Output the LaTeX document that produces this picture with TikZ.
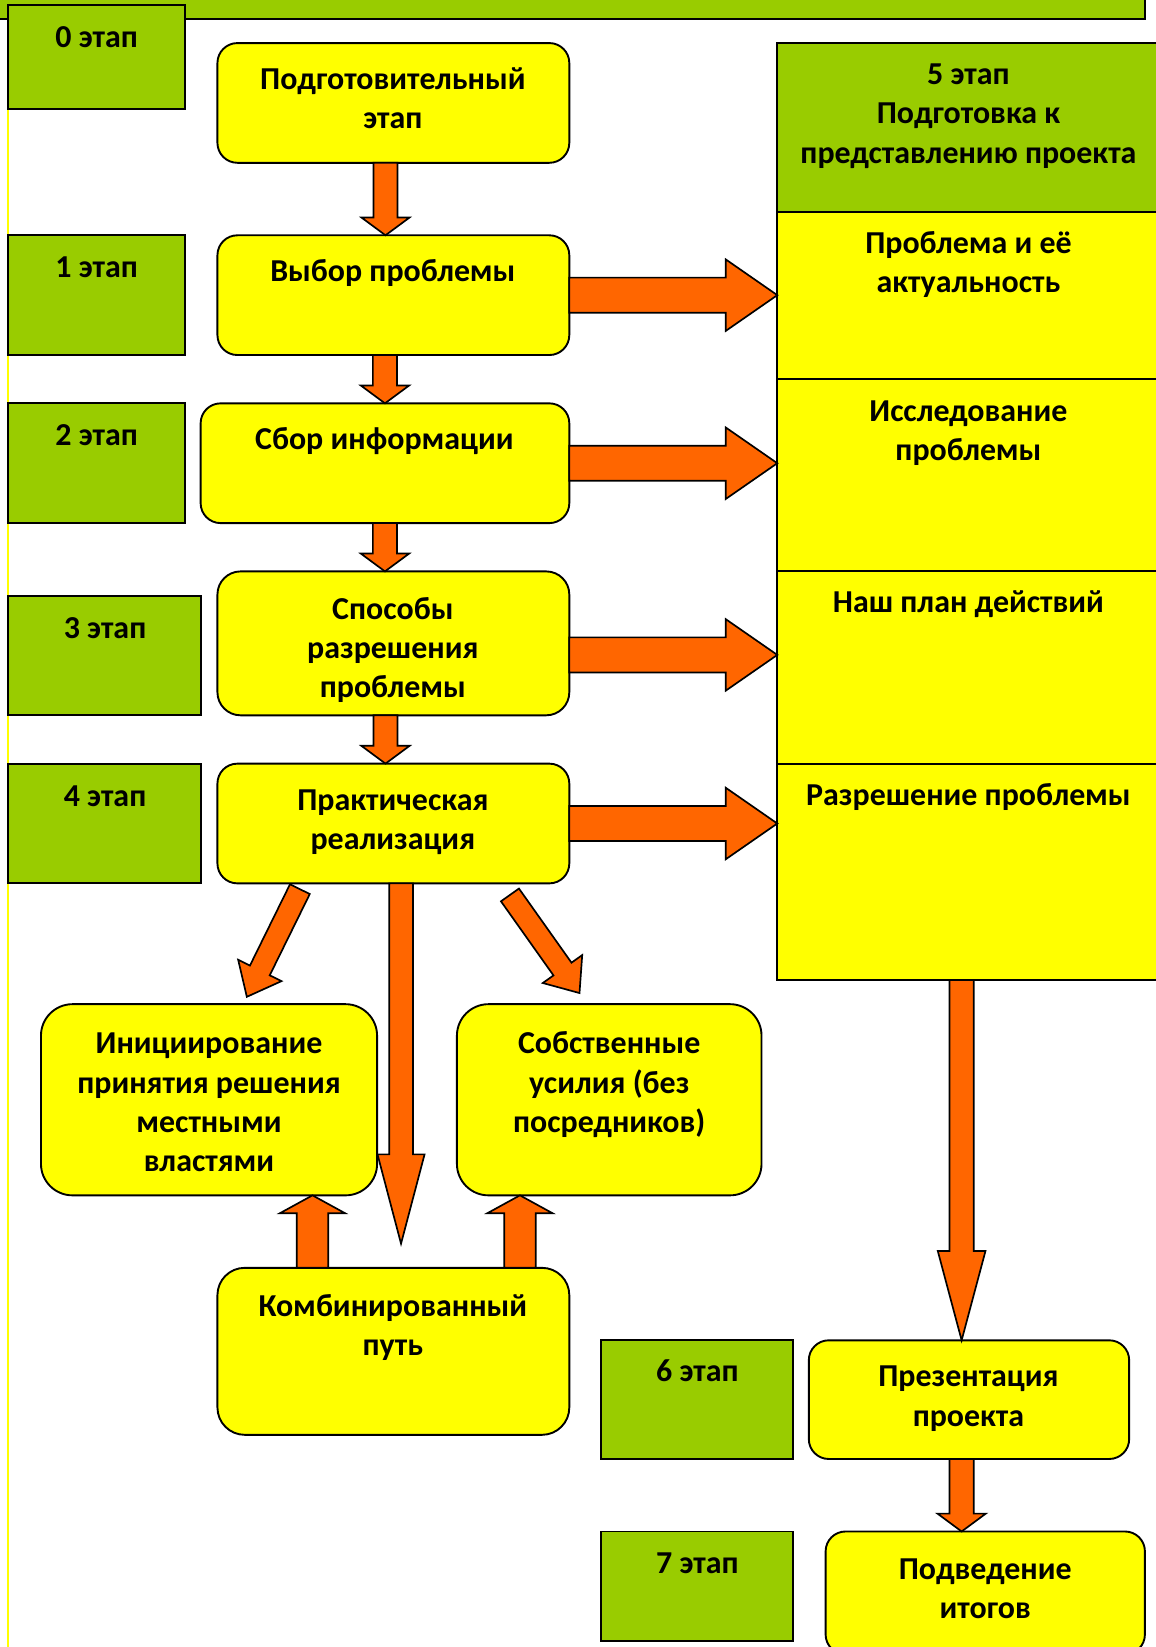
\documentclass[tikz,border=0pt]{standalone}
\usepackage{fontspec}
\setmainfont{Carlito}
\usetikzlibrary{calc}
\definecolor{gr}{HTML}{99CC00}
\definecolor{ye}{HTML}{FFFF00}
\definecolor{orng}{HTML}{FF6600}
\tikzset{
 basebox/.style={draw=black, line width=0.9pt, inner sep=0pt, outer sep=0pt, anchor=north west},
 gbox/.style={basebox, fill=gr},
 ybox/.style={basebox, fill=ye},
 rbox/.style={basebox, fill=ye, rounded corners=#1},
 txt/.style={font=\fontsize{15.2}{18.7}\selectfont\bfseries, align=center, inner sep=0pt, anchor=north},
 blk/.style={draw=black, line width=0.8pt, fill=orng, line join=miter},
}
\newcommand\bx[6][gbox]{\node[#1, minimum width={(#5-#3)*0.5pt}, minimum height={(#6-#4)*0.5pt}] (#2) at (#3,#4) {};}
\newcommand\tx[4]{\node[txt] (#1) at ({#2},{#3-17}) {\rule{0pt}{13pt}#4};}
\newcommand\barrow[5]{%
 \coordinate (hh) at ($(#2)!#5!(#1)$);
 \draw[blk] ($(#1)!#3!90:(#2)$) -- ($(hh)!#3!90:(#2)$) -- ($(hh)!#4!90:(#2)$) -- (#2) -- ($(hh)!#4!-90:(#2)$) -- ($(hh)!#3!-90:(#2)$) -- ($(#1)!#3!-90:(#2)$) -- cycle;}
\begin{document}
\begin{tikzpicture}[x=0.5pt, y=-0.5pt]
\useasboundingbox (0,0) rectangle (1100,1568);
\fill[white] (0,0) rectangle (1100,1568);
% left yellow border line
\draw[ye, line width=1.2pt] (7.5,-10) -- (7.5,1580);
% top bar
\bx{bar}{-10}{-30}{1090}{18}
% stage boxes
\bx{g0}{8}{5}{176}{104}
\bx{g1}{8}{224}{176}{338}
\bx{g2}{8}{384}{176}{498}
\bx{g3}{8}{567}{191}{681}
\bx{g4}{8}{727}{191}{841}
\bx{g6}{572}{1276}{755}{1389}
\bx{g7}{572}{1458}{755}{1562}
% central rounded boxes
\bx[rbox=9.5pt]{p0}{207}{41}{542}{155}
\bx[rbox=9.5pt]{p1}{207}{224}{542}{338}
\bx[rbox=9.5pt]{p2}{191}{384}{542}{498}
\bx[rbox=11pt]{p3}{207}{544}{542}{681}
\bx[rbox=9.5pt]{p4}{207}{727}{542}{841}
\bx[rbox=15pt]{q1}{39}{956}{359}{1138}
\bx[rbox=15pt]{q2}{435}{956}{725}{1138}
\bx[rbox=13pt]{k}{207}{1207}{542}{1366}
\bx[rbox=9.5pt]{pr}{770}{1276}{1075}{1389}
\bx[rbox=9.5pt]{pv}{786}{1458}{1090}{1575}
% right column
\bx{c0}{740}{41}{1110}{202}
\bx[ybox]{c1}{740}{202}{1110}{361}
\bx[ybox]{c2}{740}{361}{1110}{544}
\bx[ybox]{c3}{740}{544}{1110}{727}
\bx[ybox]{c4}{740}{727}{1110}{933}
% texts
\tx{t0}{92}{36}{0 этап}
\tx{t1}{92}{255}{1 этап}
\tx{t2}{92}{415}{2 этап}
\tx{t3}{100}{598}{3 этап}
\tx{t4}{100}{758}{4 этап}
\tx{t6}{664}{1306}{6 этап}
\tx{t7}{664}{1489}{7 этап}
\tx{tp0}{374}{76}{Подготовительный\\этап}
\tx{tp1}{374}{259}{Выбор проблемы}
\tx{tp2}{366}{419}{Сбор информации}
\tx{tp3}{374}{580}{Способы\\разрешения\\проблемы}
\tx{tp4}{374}{762}{Практическая\\реализация}
\tx{tq1}{199}{994}{Инициирование\\принятия решения\\местными\\властями}
\tx{tq2}{580}{994}{Собственные\\усилия (без\\посредников)}
\tx{tk}{374}{1244}{Комбинированный\\путь}
\tx{tpr}{922}{1311}{Презентация\\проекта}
\tx{tpv}{938}{1494}{Подведение\\итогов}
\tx{tc0}{922}{71}{5 этап\\Подготовка к\\представлению проекта}
\tx{tc1}{922}{232}{Проблема и её\\актуальность}
\tx{tc2}{922}{392}{Исследование\\проблемы}
\tx{tc3}{922}{574}{Наш план действий}
\tx{tc4}{922}{757}{Разрешение проблемы}
% vertical arrows in central column
\coordinate (a0s) at ($(p0.south)+(-7.5,0)$);
\coordinate (a0e) at ($(p1.north)+(-7.5,0)$);
\barrow{a0s}{a0e}{5.75pt}{11.5pt}{8.5pt}
\coordinate (a1s) at (p1.south -| p2.north);
\barrow{a1s}{p2.north}{5.75pt}{11.5pt}{8.5pt}
\coordinate (a2e) at (p3.north -| p2.south);
\barrow{p2.south}{a2e}{5.75pt}{11.5pt}{8.5pt}
\coordinate (a3s) at ($(p3.south)+(-7.5,0)$);
\coordinate (a3e) at ($(p4.north)+(-7.5,0)$);
\barrow{a3s}{a3e}{5.75pt}{11.5pt}{8.5pt}
% horizontal arrows to the right column
\coordinate (h1e) at (p1.east -| c1.west);
\barrow{p1.east}{h1e}{8.35pt}{17pt}{24.5pt}
\coordinate (h2e) at (p2.east -| c2.west);
\barrow{p2.east}{h2e}{8.35pt}{17pt}{24.5pt}
\coordinate (h3s) at ($(p3.east)+(0,11)$);
\coordinate (h3e) at (h3s -| c3.west);
\barrow{h3s}{h3e}{8.35pt}{17pt}{24.5pt}
\coordinate (h4e) at (p4.east -| c4.west);
\barrow{p4.east}{h4e}{8.35pt}{17pt}{24.5pt}
% diagonal arrows
\coordinate (d1s) at ($(p4.south)+(-89,5.5)$);
\coordinate (d1e) at ($(q1.north)+(36,-7)$);
\barrow{d1s}{d1e}{5.25pt}{11.5pt}{14pt}
\coordinate (d2s) at ($(p4.south)+(111,11)$);
\coordinate (d2e) at ($(q2.north)+(-28.3,-10.6)$);
\barrow{d2s}{d2e}{5.25pt}{11.5pt}{14pt}
\coordinate (d3s) at ($(p4.south)+(7.3,0)$);
\coordinate (d3e) at ($(k.north)+(7.3,-23)$);
\barrow{d3s}{d3e}{5.65pt}{11.2pt}{42.5pt}
% up arrows
\coordinate (u1s) at ($(k.north)+(-77,0)$);
\coordinate (u1e) at (u1s |- q1.south);
\barrow{u1s}{u1e}{7.5pt}{15.5pt}{8.5pt}
\coordinate (u2s) at ($(k.north)+(120.5,0)$);
\coordinate (u2e) at (u2s |- q2.south);
\barrow{u2s}{u2e}{7.5pt}{15.5pt}{8.5pt}
% right column arrows
\coordinate (r1s) at ($(c4.south west)+(175.5,0)$);
\coordinate (r1e) at (r1s |- pr.north);
\barrow{r1s}{r1e}{5.8pt}{11.35pt}{42.5pt}
\coordinate (r2s) at (r1s |- pr.south);
\coordinate (r2e) at (r1s |- pv.north);
\barrow{r2s}{r2e}{5.75pt}{11.5pt}{8.5pt}
\end{tikzpicture}
\end{document}
